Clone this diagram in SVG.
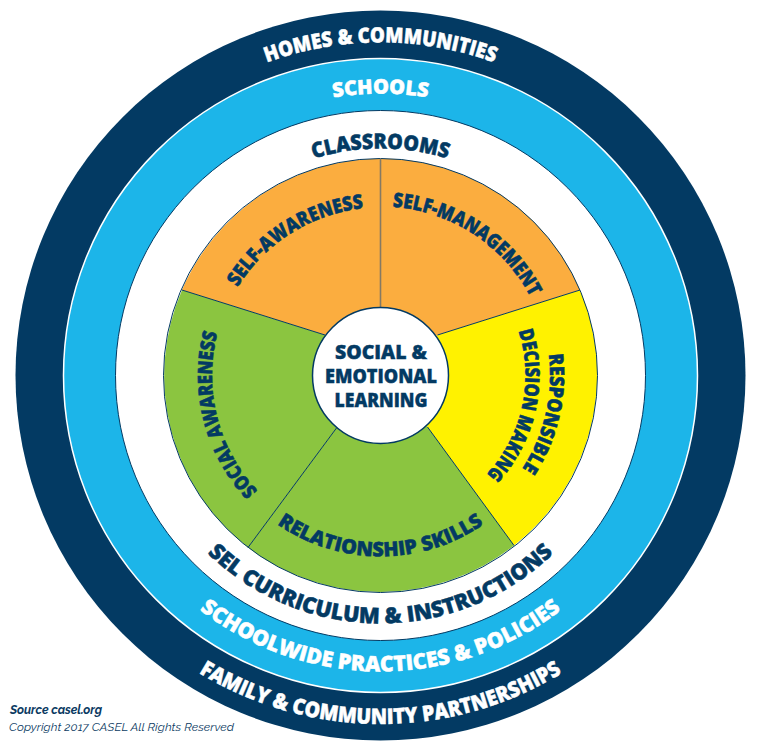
<svg xmlns="http://www.w3.org/2000/svg" xmlns:xlink="http://www.w3.org/1999/xlink" width="759" height="753" viewBox="0 0 759 753">
<style>
.ring{font-family:"Open Sans","Liberation Sans",sans-serif;font-weight:800;stroke-width:0.5;}
.lt{fill:#ffffff;stroke:#ffffff;}
.dk{fill:#033a63;stroke:#033a63;}
.pie{font-family:"Open Sans","Liberation Sans",sans-serif;font-weight:800;font-size:20px;fill:#033a63;stroke:#033a63;stroke-width:0.5;}
.ctr{font-family:"Open Sans","Liberation Sans",sans-serif;font-weight:800;font-size:19.5px;fill:#033a63;stroke:#033a63;stroke-width:0.4;text-anchor:middle;}
.seg{stroke:none;}
.bnd{stroke:#033a63;stroke-width:1;fill:none;}
.foot{font-family:"Raleway","Open Sans","Liberation Sans",sans-serif;font-style:italic;fill:#0b3a62;}
</style>
<defs>
<path id="pHomes" d="M 52.55 317.7 A 333 333 0 0 1 708.45 317.7"/>
<path id="pSchools" d="M 102.8 326.54 A 282 282 0 0 1 658.2 326.54"/>
<path id="pClass" d="M 156.95 336.1 A 227 227 0 0 1 604.05 336.1"/>
<path id="pSel" d="M 136.27 418.55 A 248 248 0 0 0 624.73 418.55"/>
<path id="pSchoolwide" d="M 89 426.9 A 296 296 0 0 0 672 426.9"/>
<path id="pFamily" d="M 37.3 436 A 348.5 348.5 0 0 0 723.7 436"/>
<path id="pSA" d="M 224.85 438.7 A 168 168 0 0 1 505.16 262.87"/>
<path id="pSM" d="M 257.4 259.7 A 169 169 0 0 1 535.8 442.2"/>
<path id="pResp" d="M 447 219.6 A 169.5 169.5 0 0 1 371.3 544.75"/>
<path id="pDec" d="M 436.3 241.7 A 145 145 0 0 1 373.8 520.3"/>
<path id="pSoc" d="M 393.1 543.5 A 168.5 168.5 0 0 1 311.2 221.9"/>
<path id="pRel" d="M 202.25 406.9 A 181 181 0 0 0 558.75 406.9"/>
</defs>
<rect width="759" height="753" fill="#ffffff"/>

<g id="ring-homes">
<circle cx="380.5" cy="375.5" r="365" fill="#033a63"/>
<text class="ring lt" font-size="21"><textPath xlink:href="#pHomes" href="#pHomes" startOffset="50%" text-anchor="middle" textLength="232" lengthAdjust="spacingAndGlyphs">HOMES &amp; COMMUNITIES</textPath></text>
<text class="ring lt" font-size="21.5"><textPath xlink:href="#pFamily" href="#pFamily" startOffset="50%" text-anchor="middle" textLength="382" lengthAdjust="spacingAndGlyphs">FAMILY &amp; COMMUNITY PARTNERSHIPS</textPath></text>
</g>

<g id="ring-schools">
<circle cx="380.5" cy="375.5" r="317" fill="#1cb5e9" stroke="#ffffff" stroke-width="1.5"/>
<text class="ring lt" font-size="20"><textPath xlink:href="#pSchools" href="#pSchools" startOffset="50%" text-anchor="middle" textLength="95" lengthAdjust="spacingAndGlyphs">SCHOOLS</textPath></text>
<text class="ring lt" font-size="21.5"><textPath xlink:href="#pSchoolwide" href="#pSchoolwide" startOffset="50%" text-anchor="middle" textLength="389" lengthAdjust="spacingAndGlyphs">SCHOOLWIDE PRACTICES &amp; POLICIES</textPath></text>
</g>

<g id="ring-classrooms">
<circle cx="380.5" cy="375.5" r="265" fill="#ffffff" stroke="#033a63" stroke-width="1"/>
<text class="ring dk" font-size="21"><textPath xlink:href="#pClass" href="#pClass" startOffset="50%" text-anchor="middle" textLength="136" lengthAdjust="spacingAndGlyphs">CLASSROOMS</textPath></text>
<text class="ring dk" font-size="22"><textPath xlink:href="#pSel" href="#pSel" startOffset="50%" text-anchor="middle" textLength="383" lengthAdjust="spacingAndGlyphs">SEL CURRICULUM &amp; INSTRUCTIONS</textPath></text>
</g>

<g id="self-awareness">
<path class="seg" fill="#fbad3f" d="M 380.5 375.5 L 325 335 L 182 290 A 217 217 0 0 1 380.5 158.5 L 380.5 307.5 Z"/>
<text class="pie"><textPath xlink:href="#pSA" href="#pSA" startOffset="50%" text-anchor="middle" textLength="154" lengthAdjust="spacingAndGlyphs">SELF-AWARENESS</textPath></text>
</g>

<g id="self-management">
<path class="seg" fill="#fbad3f" d="M 380.5 375.5 L 380.5 307.5 L 380.5 158.5 A 217 217 0 0 1 580 290 L 437.5 335 Z"/>
<text class="pie"><textPath xlink:href="#pSM" href="#pSM" startOffset="50%" text-anchor="middle" textLength="172" lengthAdjust="spacingAndGlyphs">SELF-MANAGEMENT</textPath></text>
</g>

<g id="responsible-decision-making">
<path class="seg" fill="#fff200" d="M 380.5 375.5 L 437.5 335 L 580 290 A 217 217 0 0 1 514 545.5 L 427.5 427 Z"/>
<text class="pie"><textPath xlink:href="#pResp" href="#pResp" startOffset="50%" text-anchor="middle" textLength="120" lengthAdjust="spacingAndGlyphs">RESPONSIBLE</textPath></text>
<text class="pie"><textPath xlink:href="#pDec" href="#pDec" startOffset="50%" text-anchor="middle" textLength="154" lengthAdjust="spacingAndGlyphs">DECISION MAKING</textPath></text>
</g>

<g id="relationship-skills">
<path class="seg" fill="#8bc540" d="M 380.5 375.5 L 427.5 427 L 514 545.5 A 217 217 0 0 1 248 547.5 L 336.5 428 Z"/>
<text class="pie"><textPath xlink:href="#pRel" href="#pRel" startOffset="50%" text-anchor="middle" textLength="220" lengthAdjust="spacingAndGlyphs">RELATIONSHIP SKILLS</textPath></text>
</g>

<g id="social-awareness">
<path class="seg" fill="#8bc540" d="M 380.5 375.5 L 336.5 428 L 248 547.5 A 217 217 0 0 1 182 290 L 325 335 Z"/>
<text class="pie"><textPath xlink:href="#pSoc" href="#pSoc" startOffset="50%" text-anchor="middle" textLength="170" lengthAdjust="spacingAndGlyphs">SOCIAL AWARENESS</textPath></text>
</g>

<g id="connectors">
<circle class="bnd" cx="380.5" cy="375.5" r="217"/>
<line class="bnd" x1="325" y1="335" x2="182" y2="290"/>
<line x1="380.5" y1="307.5" x2="380.5" y2="158.5" stroke="#857a63" stroke-width="1.6"/>
<line class="bnd" x1="437.5" y1="335" x2="580" y2="290"/>
<line class="bnd" x1="427.5" y1="427" x2="514" y2="545.5"/>
<line class="bnd" x1="336.5" y1="428" x2="248" y2="547.5"/>
</g>

<g id="center">
<circle cx="380.5" cy="375.5" r="68" fill="#ffffff" stroke="#033a63" stroke-width="1.5"/>
<text class="ctr" x="381" y="358.5" textLength="92" lengthAdjust="spacingAndGlyphs">SOCIAL &amp;</text>
<text class="ctr" x="381" y="382.5" textLength="112" lengthAdjust="spacingAndGlyphs">EMOTIONAL</text>
<text class="ctr" x="381" y="406.5" textLength="93" lengthAdjust="spacingAndGlyphs">LEARNING</text>
</g>

<g id="footer">
<text class="foot" x="10" y="713.5" font-size="12" font-weight="700" textLength="92">Source casel.org</text>
<text class="foot" x="9" y="730.5" font-size="12" textLength="225">Copyright 2017 CASEL All Rights Reserved</text>
</g>
</svg>
